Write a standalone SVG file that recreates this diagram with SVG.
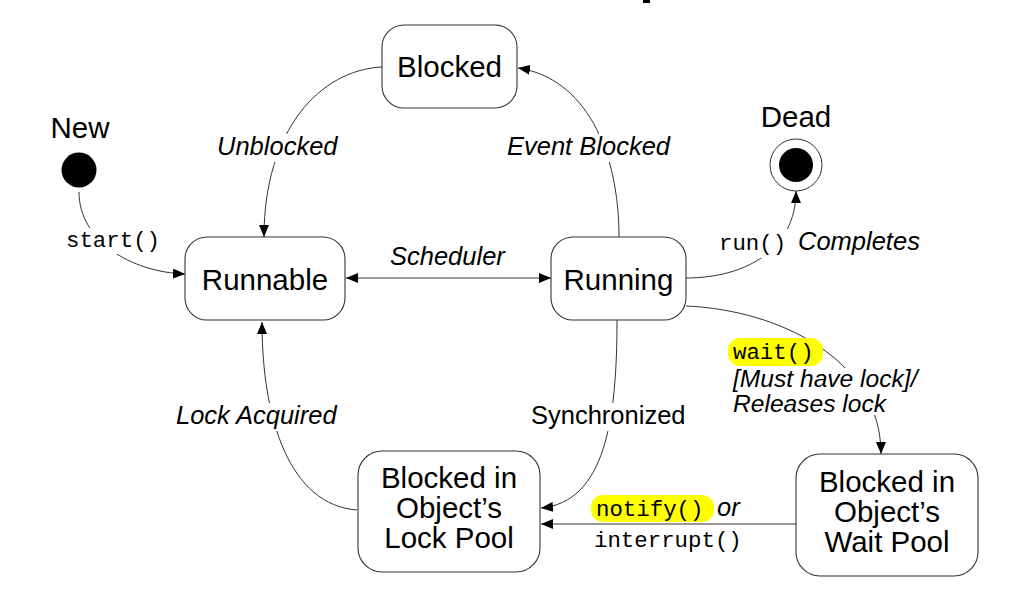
<svg xmlns="http://www.w3.org/2000/svg" width="1012" height="603" viewBox="0 0 1012 603">
<style>
.box{fill:#fff;stroke:#333;stroke-width:1.1}
.nl{font-family:"Liberation Sans",Arial,sans-serif;font-size:29.5px;fill:#000;text-anchor:middle}
.el{font-family:"Liberation Sans",Arial,sans-serif;font-size:25.5px;font-style:italic;fill:#000}
.sm{font-size:24.6px}
.en{font-family:"Liberation Sans",Arial,sans-serif;font-size:25.5px;fill:#000}
.mono{font-family:"Liberation Mono","Courier New",monospace;font-size:22.4px;fill:#000}
.ln{fill:none;stroke:#333;stroke-width:1}
.hl{fill:#ffff00}
.bg{fill:#fff}
</style>
<defs>
<marker id="ah" viewBox="0 0 12 10" refX="12" refY="5" markerWidth="12" markerHeight="10" markerUnits="userSpaceOnUse" orient="auto-start-reverse">
<path d="M0,0 L12,5 L0,10 Z" fill="#000"/>
</marker>
</defs>
<rect x="643" y="0" width="7" height="3" fill="#000"/>
<g id="connectors">
<path class="ln" d="M79,192 C79,240 130,272 185,274" marker-end="url(#ah)"/>
<path class="ln" d="M382,67 C320,70 264,130 264,237" marker-end="url(#ah)"/>
<path class="ln" d="M619,237 C619,150 585,78 518,68" marker-end="url(#ah)"/>
<path class="ln" d="M346,278 L551,278" marker-start="url(#ah)" marker-end="url(#ah)"/>
<path class="ln" d="M686,278 C745,278 796,250 796,191" marker-end="url(#ah)"/>
<path class="ln" d="M686,306 C780,310 881,360 881,454" marker-end="url(#ah)"/>
<path class="ln" d="M617,320 C617,420 605,502 541,508" marker-end="url(#ah)"/>
<path class="ln" d="M796,524 L541,524" marker-end="url(#ah)"/>
<path class="ln" d="M357,510 C290,505 262,420 262,322" marker-end="url(#ah)"/>
</g>
<g id="labels">
<rect class="bg" x="62" y="228" width="102" height="26"/>
<text class="mono" x="66" y="247">start()</text>
<rect class="bg" x="214" y="134" width="125" height="28"/>
<text class="el" x="217" y="155">Unblocked</text>
<rect class="bg" x="504" y="134" width="169" height="28"/>
<text class="el" x="507" y="155">Event Blocked</text>
<text class="el" x="390" y="265">Scheduler</text>
<rect class="bg" x="716" y="229" width="208" height="29"/>
<text class="mono" x="719" y="250">run()</text>
<text class="el" x="798" y="250">Completes</text>
<rect class="bg" x="173" y="403" width="167" height="28"/>
<text class="el" x="176" y="424">Lock Acquired</text>
<rect class="bg" x="528" y="403" width="160" height="28"/>
<text class="en" x="531" y="424">Synchronized</text>
<rect class="bg" x="730" y="368" width="198" height="47"/>
<rect class="hl" x="728" y="338" width="95" height="28" rx="12"/>
<text class="mono" x="733" y="359">wait()</text>
<text class="el sm" x="733" y="386.5">[Must have lock]/</text>
<text class="el sm" x="733" y="411.5">Releases lock</text>
<rect class="hl" x="591" y="495" width="123" height="27" rx="12"/>
<text class="mono" x="596" y="516">notify()</text>
<text class="el" x="717" y="516">or</text>
<text class="mono" x="594" y="547">interrupt()</text>
</g>
<g id="new">
<text class="nl" x="80" y="138">New</text>
<circle cx="79" cy="170" r="17.5" fill="#000"/>
</g>
<g id="dead">
<text class="nl" x="796" y="127">Dead</text>
<circle cx="796" cy="165" r="26" fill="#fff" stroke="#333" stroke-width="1"/>
<circle cx="796" cy="165" r="17" fill="#000"/>
</g>
<g id="blocked">
<rect class="box" x="382" y="25" width="135" height="83" rx="22"/>
<text class="nl" x="449.5" y="77">Blocked</text>
</g>
<g id="runnable">
<rect class="box" x="185" y="237" width="160" height="83" rx="22"/>
<text class="nl" x="265" y="290">Runnable</text>
</g>
<g id="running">
<rect class="box" x="551" y="237" width="135" height="83" rx="22"/>
<text class="nl" x="618.5" y="290">Running</text>
</g>
<g id="lockpool">
<rect class="box" x="358" y="451" width="182" height="121" rx="24"/>
<text class="nl" x="449" y="488">Blocked in</text>
<text class="nl" x="449" y="518">Object’s</text>
<text class="nl" x="449" y="548">Lock Pool</text>
</g>
<g id="waitpool">
<rect class="box" x="796" y="454" width="182" height="122" rx="24"/>
<text class="nl" x="887" y="492">Blocked in</text>
<text class="nl" x="887" y="522">Object’s</text>
<text class="nl" x="887" y="552">Wait Pool</text>
</g>
</svg>
